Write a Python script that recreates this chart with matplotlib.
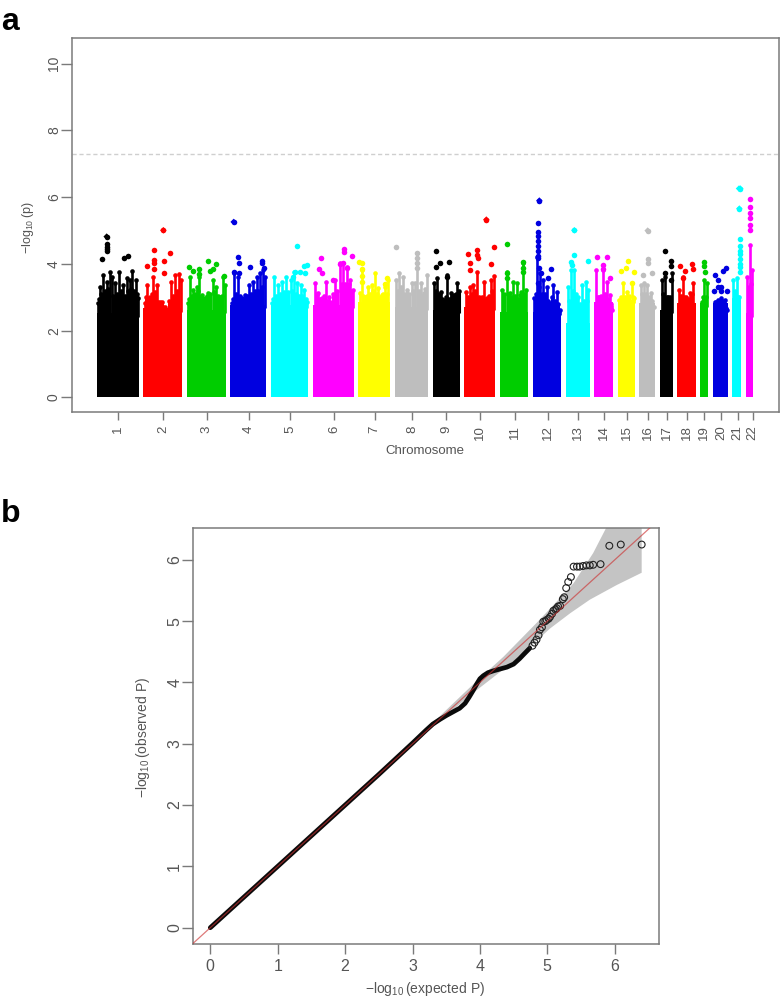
import matplotlib
matplotlib.use("Agg")
import matplotlib.pyplot as plt

W, H = 781, 998
plt.rcParams['font.family'] = ['Liberation Sans', 'DejaVu Sans']
plt.rcParams['mathtext.fontset'] = 'custom'
plt.rcParams['mathtext.rm'] = 'Liberation Sans'
plt.rcParams['mathtext.default'] = 'rm'

# ---------- Manhattan data (x = cumulative genome position, arbitrary units) ----------
chrom_names = [str(i) for i in range(1, 23)]
chrom_colors = ['#000000', '#ff0000', '#00cd00', '#0000e0', '#00ffff', '#ff00ff', '#ffff00', '#bebebe',
                '#000000', '#ff0000', '#00cd00', '#0000e0', '#00ffff', '#ff00ff', '#ffff00', '#bebebe',
                '#000000', '#ff0000', '#00cd00', '#0000e0', '#00ffff', '#ff00ff']
chrom_start = [112, 250, 380, 511, 632, 758, 895, 1004, 1118, 1213, 1319, 1418, 1518, 1602, 1673, 1738, 1801, 1852, 1921, 1958, 2016, 2057]
chrom_end = [238, 366, 497, 618, 744, 881, 990, 1104, 1200, 1305, 1404, 1504, 1589, 1660, 1725, 1786, 1838, 1907, 1945, 2003, 2044, 2080]
chrom_tick = [175, 310, 440, 567, 691, 822, 944, 1056, 1159, 1260, 1364, 1463, 1553, 1633, 1701, 1764, 1820, 1880, 1933, 1983, 2033, 2078]
chrom_body = [2.52, 2.67, 2.62, 2.77, 2.77, 2.77, 2.87, 2.72, 2.62, 2.72, 2.57, 2.57, 2.22, 2.87, 2.92, 2.82, 2.62, 2.82, 2.82, 2.82, 2.97, 2.52]

tower_x = [
    [115, 120, 128, 140, 150, 155, 165, 178, 190, 200, 210, 217, 228, 235],
    [255, 262, 270, 280, 290, 300, 310, 320, 332, 345, 358, 363],
    [385, 390, 400, 410, 418, 425, 435, 445, 458, 468, 480, 490, 495],
    [515, 522, 533, 545, 555, 568, 578, 590, 600, 610, 615],
    [635, 642, 655, 665, 678, 692, 703, 712, 722, 732, 742],
    [765, 775, 785, 797, 807, 815, 825, 840, 850, 862, 870, 878],
    [900, 905, 915, 925, 935, 945, 955, 965, 975, 985],
    [1008, 1018, 1028, 1040, 1055, 1065, 1072, 1082, 1092, 1100],
    [1122, 1132, 1142, 1152, 1162, 1172, 1182, 1192],
    [1218, 1230, 1240, 1252, 1262, 1272, 1282, 1292, 1302],
    [1325, 1340, 1350, 1360, 1370, 1380, 1388, 1398],
    [1422, 1432, 1440, 1450, 1460, 1470, 1480, 1490, 1500],
    [1523, 1533, 1543, 1555, 1565, 1577, 1585],
    [1608, 1618, 1630, 1640, 1650, 1656],
    [1678, 1690, 1702, 1715, 1722],
    [1742, 1752, 1762, 1772, 1782],
    [1805, 1815, 1825, 1835],
    [1856, 1868, 1878, 1890, 1900],
    [1925, 1933, 1940],
    [1964, 1974, 1984, 1994, 2000],
    [2020, 2030, 2038],
    [2062, 2070, 2077],
]
tower_top = [
    [2.82, 3.32, 3.67, 3.47, 3.77, 3.62, 3.42, 3.77, 3.37, 3.57, 3.52, 3.79, 3.52, 2.97],
    [2.82, 3.37, 3.02, 3.62, 3.37, 2.87, 2.72, 2.62, 3.47, 3.67, 3.70, 3.52],
    [2.82, 3.62, 3.22, 3.32, 3.62, 3.07, 2.97, 3.12, 3.52, 3.32, 3.02, 3.62, 3.37],
    [2.82, 3.72, 3.62, 2.97, 3.07, 3.37, 3.47, 3.62, 3.72, 3.82, 3.62],
    [2.82, 3.62, 3.37, 3.47, 3.62, 3.52, 3.77, 3.42, 3.37, 3.22, 2.87],
    [3.42, 3.12, 2.97, 3.47, 3.02, 2.77, 3.52, 4.02, 4.02, 3.92, 3.52, 3.22],
    [3.12, 3.82, 3.02, 3.32, 3.37, 3.72, 3.27, 3.07, 3.32, 3.52],
    [3.52, 3.72, 3.62, 3.22, 3.42, 3.42, 4.32, 3.42, 3.12, 3.67],
    [3.42, 3.57, 3.17, 2.92, 3.67, 3.12, 3.07, 3.42],
    [3.17, 3.32, 3.37, 3.77, 2.82, 3.47, 2.97, 3.52, 3.64],
    [3.22, 3.77, 3.12, 3.47, 3.42, 3.07, 4.02, 3.22],
    [2.97, 4.22, 3.72, 3.52, 3.32, 2.82, 3.37, 3.17, 2.62],
    [3.32, 3.82, 3.82, 3.02, 3.37, 3.47, 3.22],
    [3.82, 3.02, 3.82, 3.47, 3.07, 2.62],
    [2.92, 3.42, 3.17, 3.42, 2.97],
    [3.37, 3.42, 3.37, 3.12, 2.72],
    [3.52, 3.62, 3.02, 3.72],
    [3.22, 3.62, 3.02, 3.12, 3.42],
    [2.87, 3.52, 3.42],
    [2.87, 2.92, 2.97, 2.92, 2.62],
    [3.52, 3.57, 3.02],
    [3.62, 4.57, 3.82],
]
shoulder_x = [
    [118, 124, 134, 145, 160, 171, 184, 195, 205, 214, 223, 231],
    [258, 266, 275, 285, 295, 305, 315, 326, 338, 351],
    [388, 395, 405, 414, 421, 430, 440, 451, 463, 474, 485],
    [518, 527, 539, 550, 561, 573, 584, 595, 605],
    [639, 648, 660, 671, 685, 697, 707, 717, 727, 737],
    [770, 780, 791, 802, 811, 820, 832, 845, 856, 866, 874],
    [910, 920, 930, 940, 950, 960, 970, 980],
    [1013, 1023, 1034, 1047, 1060, 1077, 1087, 1096],
    [1127, 1137, 1147, 1157, 1167, 1177, 1187, 1196],
    [1224, 1235, 1246, 1257, 1267, 1277, 1287, 1297],
    [1332, 1345, 1355, 1365, 1375, 1384, 1393],
    [1427, 1436, 1445, 1455, 1465, 1475, 1485, 1495],
    [1528, 1538, 1549, 1560, 1571, 1581],
    [1613, 1624, 1635, 1645, 1653],
    [1684, 1696, 1708, 1718],
    [1747, 1757, 1767, 1777],
    [1810, 1820, 1830],
    [1862, 1873, 1884, 1895],
    [1929, 1937],
    [1969, 1979, 1989],
    [2025, 2034],
    [2066, 2074],
]
shoulder_top = [
    [2.95, 3.10, 3.20, 3.25, 3.05, 3.10, 3.20, 3.05, 3.20, 3.25, 3.20, 3.10],
    [3.00, 2.95, 3.10, 3.15, 2.85, 2.85, 2.72, 2.90, 3.05, 3.20],
    [2.95, 3.05, 3.10, 3.20, 3.00, 2.95, 3.05, 3.10, 3.15, 3.05, 3.05],
    [2.95, 3.10, 3.05, 2.95, 3.05, 3.10, 3.20, 3.20, 3.30],
    [2.95, 3.05, 3.10, 3.15, 3.15, 3.20, 3.10, 3.05, 3.05, 2.95],
    [3.10, 2.95, 3.05, 2.90, 2.85, 3.10, 3.20, 3.40, 3.40, 3.40, 3.20],
    [3.05, 3.05, 3.10, 3.20, 3.10, 3.00, 3.10, 3.10],
    [3.20, 3.30, 3.10, 3.10, 3.20, 3.20, 3.05, 3.25],
    [3.20, 3.10, 2.95, 3.00, 2.95, 3.00, 3.10, 3.20],
    [3.00, 3.10, 3.20, 3.00, 3.00, 2.95, 3.05, 3.20],
    [3.10, 3.10, 3.00, 3.05, 2.95, 3.15, 3.10],
    [3.10, 3.30, 3.10, 3.10, 2.90, 3.00, 2.90, 2.80],
    [2.90, 3.20, 3.10, 2.80, 2.90, 2.90],
    [3.00, 3.05, 3.10, 2.95, 2.80],
    [3.00, 3.00, 3.05, 3.00],
    [3.10, 3.10, 3.00, 2.90],
    [3.10, 3.00, 3.00],
    [3.05, 3.00, 2.95, 3.10],
    [3.00, 3.00],
    [2.85, 2.90, 2.90],
    [3.20, 3.00],
    [3.30, 3.40],
]
peak_x = [
    [140, 140, 140, 140, 140, 126, 192, 205],
    [310, 282, 331, 282, 282, 311, 262, 283, 311],
    [388, 398, 416, 416, 443, 467, 450, 460, 492],
    [521, 533, 537, 569, 605, 607, 611, 522, 538],
    [710, 742, 732, 705, 720, 735, 698],
    [782, 852, 852, 876, 777, 787, 840, 850, 820, 860],
    [898, 905, 905, 905, 905, 982, 974],
    [1008, 1072, 1072, 1072, 1072],
    [1127, 1140, 1168, 1128, 1162],
    [1279, 1303, 1224, 1252, 1250, 1253, 1230, 1294, 1229],
    [1341, 1388, 1388, 1388, 1340, 1340],
    [1438, 1433, 1433, 1433, 1433, 1433, 1433, 1433, 1433, 1474, 1465, 1437, 1442, 1433],
    [1543, 1543, 1532, 1584, 1535],
    [1611, 1641, 1630, 1630, 1650],
    [1705, 1699, 1684, 1723, 1715],
    [1763, 1765, 1765, 1750, 1777],
    [1816, 1834, 1834, 1816, 1834],
    [1861, 1874, 1896, 1898, 1868],
    [1932, 1932, 1936],
    [1965, 1975, 1998, 1990, 1974, 1984, 2000, 1963, 1984],
    [2039, 2038, 2040, 2040, 2040, 2040, 2040, 2040, 2040, 2040],
    [2070, 2070, 2071, 2071, 2070, 2070],
]
peak_y = [
    [4.82, 4.60, 4.52, 4.44, 4.38, 4.15, 4.17, 4.25],
    [5.01, 4.42, 4.32, 4.12, 4.02, 4.09, 3.93, 3.84, 3.74],
    [3.90, 3.79, 3.85, 3.70, 4.10, 4.00, 3.80, 3.85, 3.63],
    [5.26, 4.20, 4.03, 3.90, 4.10, 4.02, 3.87, 3.77, 3.74],
    [4.55, 3.98, 3.94, 3.77, 3.77, 3.72, 3.62],
    [4.18, 4.44, 4.36, 4.23, 3.84, 3.72, 4.00, 4.02, 3.52, 3.87],
    [4.07, 4.02, 3.85, 3.65, 3.45, 3.59, 3.39],
    [4.50, 4.32, 4.17, 4.02, 3.87],
    [4.38, 4.04, 4.06, 3.92, 3.62],
    [5.33, 4.52, 4.31, 4.42, 4.27, 4.17, 4.03, 4.01, 3.81],
    [4.60, 4.06, 3.87, 3.77, 3.72, 3.57],
    [5.90, 5.22, 4.97, 4.85, 4.70, 4.55, 4.40, 4.25, 4.17, 3.86, 3.57, 3.87, 3.72, 3.42],
    [5.01, 4.28, 4.07, 4.08, 3.97],
    [4.20, 4.20, 3.97, 3.85, 3.59],
    [4.08, 3.88, 3.78, 3.76, 3.44],
    [5.00, 4.16, 4.02, 3.67, 3.72],
    [4.38, 4.10, 3.93, 3.72, 3.52],
    [3.93, 3.78, 3.99, 3.86, 3.57],
    [4.05, 3.95, 3.76],
    [3.68, 3.52, 3.87, 3.79, 3.32, 3.32, 3.20, 3.19, 3.20],
    [6.26, 5.66, 4.74, 4.54, 4.40, 4.30, 4.15, 4.00, 3.90, 3.77],
    [5.94, 5.70, 5.54, 5.37, 5.17, 5.02],
]
diamond_peaks_x = [140, 310, 521, 1279, 1438, 1543, 1763, 2037, 2041, 2038]
diamond_peaks_y = [4.82, 5.01, 5.26, 5.33, 5.90, 5.01, 5.00, 6.26, 6.26, 5.66]
diamond_colors = ['#000000', '#ff0000', '#0000e0', '#ff0000', '#0000e0', '#00ffff', '#bebebe', '#00ffff', '#00ffff', '#00ffff']
genomewide_line = 7.3
man_yticks = [0, 2, 4, 6, 8, 10]

# ---------- QQ data ----------
qq_dense_x = [0.0, 0.5, 1.0, 1.5, 2.0, 2.5, 3.0, 3.2, 3.3, 3.41, 3.5, 3.6, 3.7, 3.78, 3.84, 3.9, 3.95, 4.0, 4.05, 4.12, 4.2, 4.3, 4.4, 4.5, 4.59, 4.66, 4.74]
qq_dense_y = [0.0, 0.5, 1.0, 1.5, 2.0, 2.5, 3.01, 3.22, 3.32, 3.40, 3.46, 3.52, 3.58, 3.66, 3.76, 3.87, 3.97, 4.06, 4.11, 4.16, 4.19, 4.22, 4.25, 4.30, 4.39, 4.47, 4.56]
qq_tail_x = [4.78, 4.81, 4.84, 4.87, 4.89, 4.92, 4.94, 4.97, 4.99, 5.02, 5.04, 5.07, 5.09, 5.12, 5.14, 5.16, 5.19, 5.23, 5.25, 5.28, 5.31, 5.35,
             5.39, 5.44, 5.48, 5.53, 5.58, 5.63, 5.68, 5.79, 5.92, 6.09, 6.40]
qq_tail_y = [4.60, 4.65, 4.70, 4.77, 4.86, 4.90, 4.99, 5.00, 5.02, 5.04, 5.07, 5.12, 5.17, 5.19, 5.21, 5.24, 5.25, 5.36, 5.39, 5.54, 5.64, 5.72,
             5.89, 5.89, 5.89, 5.90, 5.91, 5.91, 5.92, 5.93, 6.23, 6.25, 6.25]
ci_x = [3.0, 3.5, 3.90, 4.35, 4.84, 5.14, 5.39, 5.68, 5.87, 6.40]
ci_upper = [3.02, 3.55, 3.97, 4.42, 4.97, 5.32, 5.62, 6.11, 6.515, 7.50]
ci_lx = [3.0, 3.5, 3.90, 4.45, 4.74, 5.04, 5.34, 5.63, 6.03, 6.40]
ci_lower = [2.98, 3.46, 3.83, 4.30, 4.58, 4.88, 5.13, 5.35, 5.59, 5.79]
qq_ticks = [0, 1, 2, 3, 4, 5, 6]

# ---------- figure ----------
SPINE = '#7a7a7a'
TXT = '#555555'
fig = plt.figure(figsize=(W / 100, H / 100), dpi=100)

def axes_px(l, t, r, b):
    return fig.add_axes([l / W, 1 - b / H, (r - l) / W, (b - t) / H])

def style(ax):
    for s in ax.spines.values():
        s.set_color(SPINE)
        s.set_linewidth(1.1)

# Manhattan
ax = axes_px(72, 38, 779, 411.5)
style(ax)
ax.set_xlim((72 - 60) * 3, (779 - 60) * 3)
ax.set_ylim(-0.42, 10.77)
for i in range(22):
    c = chrom_colors[i]
    ax.bar(chrom_start[i], chrom_body[i], width=chrom_end[i] - chrom_start[i], align='edge', color=c, linewidth=0, zorder=2)
    ax.vlines(shoulder_x[i], [chrom_body[i] - 0.1] * len(shoulder_x[i]), shoulder_top[i], colors=c, linewidth=2.2, zorder=2)
    ax.scatter(shoulder_x[i], shoulder_top[i], s=11, color=c, linewidths=0, zorder=3)
    ax.vlines(tower_x[i], [chrom_body[i] - 0.1] * len(tower_x[i]), tower_top[i], colors=c, linewidth=1.9, zorder=2)
    ax.scatter(tower_x[i], tower_top[i], s=11, color=c, linewidths=0, zorder=3)
    ax.scatter(peak_x[i], peak_y[i], s=16, color=c, linewidths=0, zorder=3)
ax.scatter(diamond_peaks_x, diamond_peaks_y, s=11, marker='D', c=diamond_colors, linewidths=0, zorder=4)
ax.plot(ax.get_xlim(), [genomewide_line, genomewide_line], color='#cfcfcf', linewidth=1.0, linestyle=(0, (3, 2)), zorder=1)
ax.set_xticks(chrom_tick)
ax.set_xticklabels(chrom_names, rotation=90, va='top', ha='center')
ax.set_yticks(man_yticks)
ax.set_yticklabels([str(v) for v in man_yticks], rotation=90, va='center')
ax.tick_params(axis='x', length=6, width=1, color=SPINE, labelcolor=TXT, labelsize=9.5, pad=4)
ax.tick_params(axis='y', length=8, width=1, color=SPINE, labelcolor=TXT, labelsize=10, pad=0)
fig.text(425 / W, 1 - 451 / H, 'Chromosome', ha='center', va='center', fontsize=9.5, color=TXT)
fig.text(28 / W, 1 - 228 / H, r'$-\log_{10}(\mathrm{p})$', ha='center', va='center', rotation=90, fontsize=9, color=TXT)

# QQ
ax2 = axes_px(193.3, 528.3, 659, 944)
style(ax2)
ax2.set_xlim(-0.252, 6.657)
ax2.set_ylim(-0.266, 6.515)
ax2.fill(ci_x + ci_lx[::-1], ci_upper + ci_lower[::-1], color='#c4c4c4', linewidth=0, zorder=1)
ax2.plot(qq_dense_x, qq_dense_y, color='#0a0a0a', linewidth=3.4, solid_capstyle='round', zorder=2)
ax2.scatter(qq_tail_x, qq_tail_y, s=24, facecolors='none', edgecolors='#222222', linewidths=0.8, zorder=3)
ax2.plot([-1, 8], [-1, 8], color='#cc3333', alpha=0.65, linewidth=0.9, zorder=4)
ax2.set_xticks(qq_ticks)
ax2.set_yticks(qq_ticks)
ax2.set_yticklabels([str(v) for v in qq_ticks], rotation=90, va='center')
ax2.tick_params(axis='x', length=7, width=1, color=SPINE, labelcolor=TXT, labelsize=11.5, pad=4)
ax2.tick_params(axis='y', length=8, width=1, color=SPINE, labelcolor=TXT, labelsize=11.5, pad=0)
fig.text(425 / W, 1 - 989 / H, r'$-\log_{10}(\mathrm{expected\ P})$', ha='center', va='center', fontsize=10, color=TXT)
fig.text(143 / W, 1 - 737 / H, r'$-\log_{10}(\mathrm{observed\ P})$', ha='center', va='center', rotation=90, fontsize=10, color=TXT)

fig.text(1 / W, 1 - 30 / H, 'a', fontsize=23, fontweight='bold', color='black', ha='left', va='baseline')
fig.text(1 / W, 1 - 522 / H, 'b', fontsize=23, fontweight='bold', color='black', ha='left', va='baseline')

fig.savefig('out.png', dpi=100)
